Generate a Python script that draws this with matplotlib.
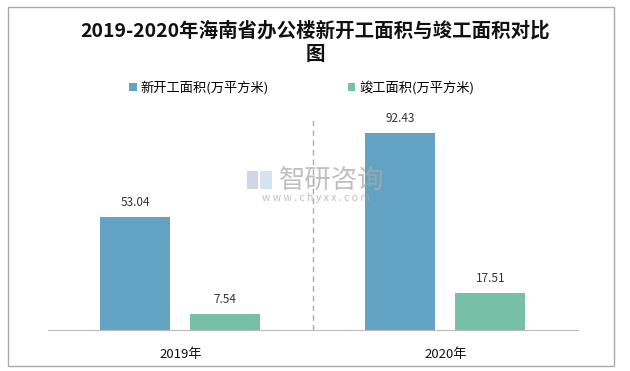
import matplotlib
matplotlib.use("Agg")
import matplotlib.pyplot as plt
from matplotlib.patches import Rectangle

plt.rcParams['font.family'] = ['Noto Sans CJK SC', 'DejaVu Sans']

categories = ["2019年", "2020年"]
series_names = ["新开工面积(万平方米)", "竣工面积(万平方米)"]
new_start = [53.04, 92.43]
completed = [7.54, 17.51]
colors = ["#62A3C4", "#77BFA6"]

fig = plt.figure(figsize=(6.3, 3.71), dpi=100)
ax = fig.add_axes([0.076, 0.1105, 0.841, 0.575])

x = list(range(len(categories)))
w = 0.265
off = 0.17
b1 = ax.bar([i - off for i in x], new_start, width=w, color=colors[0], label=series_names[0])
b2 = ax.bar([i + off for i in x], completed, width=w, color=colors[1], label=series_names[1])
for bars, vals in ((b1, new_start), (b2, completed)):
    for r, v in zip(bars, vals):
        ax.text(r.get_x() + r.get_width() / 2, v + 3.5, f"{v:.2f}", ha='center', va='bottom',
                fontsize=8.5, color='#333333')

ax.set_xlim(-0.5, 1.5)
ax.set_ylim(0, 100)
ax.axvline(0.5, color='#AAAAAA', linestyle=(0, (4, 3)), linewidth=1)
for s in ('top', 'right', 'left'):
    ax.spines[s].set_visible(False)
ax.spines['bottom'].set_color('#BBBBBB')
ax.set_yticks([])
ax.set_xticks(x)
ax.set_xticklabels(categories, fontsize=9.5, color='#111111')
ax.tick_params(axis='x', length=0, pad=13)

# title
fig.text(0.5, 0.918, "2019-2020年海南省办公楼新开工面积与竣工面积对比", ha='center', va='center',
         fontsize=14, fontweight='bold', color='#111111')
fig.text(0.5, 0.852, "图", ha='center', va='center', fontsize=14, fontweight='bold', color='#111111')

# legend
fig.legend(handles=[b1, b2], labels=series_names, loc='center', bbox_to_anchor=(0.479, 0.763),
           ncol=2, frameon=False, fontsize=9.5, handlelength=0.55, handleheight=0.55,
           handletextpad=0.3, columnspacing=6.0)

# watermark
fig.text(0.527, 0.513, "智研咨询", ha='center', va='center', fontsize=19, color='#AAAAAA', alpha=0.75)
fig.text(0.502, 0.466, "w w w . c h y x x . c o m", ha='center', va='center', fontsize=7.5,
         color='#AAAAAA', alpha=0.75)
fig.patches.append(Rectangle((0.392, 0.49), 0.018, 0.05, transform=fig.transFigure,
                             facecolor='#B8C4DC', edgecolor='none', alpha=0.7))
fig.patches.append(Rectangle((0.413, 0.49), 0.018, 0.05, transform=fig.transFigure,
                             facecolor='#BFD8EC', edgecolor='none', alpha=0.7))

# outer border
fig.patches.append(Rectangle((0.013, 0.013), 0.962, 0.968, transform=fig.transFigure,
                             fill=False, edgecolor='#AAAAAA', linewidth=1))

fig.savefig("out.png", dpi=100)
